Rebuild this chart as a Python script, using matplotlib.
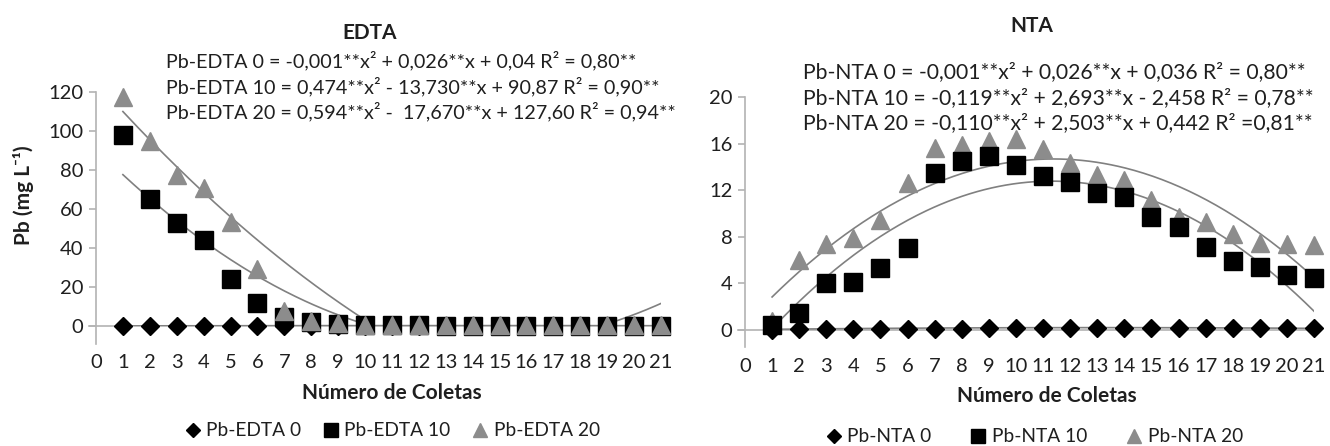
import numpy as np
import matplotlib
matplotlib.use("Agg")
import matplotlib.pyplot as plt
from matplotlib.lines import Line2D

# ---------------- data ----------------
coletas = [1, 2, 3, 4, 5, 6, 7, 8, 9, 10, 11, 12, 13, 14, 15, 16, 17, 18, 19, 20, 21]
x_ticks = list(range(0, 22))

edta_0 = [0.2, 0.2, 0.2, 0.2, 0.2, 0.2, 0.2, 0.1, 0.1, 0.1, 0.1,
          0.1, 0.1, 0.1, 0.1, 0.1, 0.1, 0.1, 0.1, 0.1, 0.1]
edta_10 = [98, 65, 53, 44, 24, 12, 4.5, 2.0, 1.2, 0.6, 0.3,
           0.3, 0.2, 0.2, 0.2, 0.2, 0.2, 0.2, 0.2, 0.2, 0.2]
edta_20 = [117.5, 95, 77.5, 71, 53.5, 29, 7.5, 2.5, 1.5, 0.6, 0.3,
           0.3, 0.3, 0.3, 0.3, 0.3, 0.3, 0.3, 0.3, 0.3, 0.3]

nta_0 = [0.0, 0.1, 0.1, 0.1, 0.1, 0.1, 0.1, 0.1, 0.15, 0.2, 0.15,
         0.2, 0.2, 0.15, 0.15, 0.15, 0.15, 0.15, 0.15, 0.15, 0.15]
nta_10 = [0.4, 1.5, 4.0, 4.1, 5.3, 7.0, 13.5, 14.5, 14.9, 14.2, 13.2,
          12.7, 11.8, 11.4, 9.7, 8.8, 7.1, 5.9, 5.4, 4.7, 4.5]
nta_20 = [0.8, 6.0, 7.4, 7.9, 9.4, 12.6, 15.6, 15.9, 16.2, 16.4, 15.5,
          14.3, 13.3, 12.9, 11.2, 9.7, 9.3, 8.2, 7.5, 7.4, 7.3]

# trend-line coefficients (a, b, c) of a*x^2 + b*x + c, as drawn
trend_edta_0 = [-0.001, 0.026, 0.04]
trend_edta_10 = [0.474, -13.730, 90.87]
trend_edta_20 = [0.325, -15.45, 125.1]
trend_nta_0 = [-0.001, 0.026, 0.036]
trend_nta_10 = [-0.119, 2.693, -2.458]
trend_nta_20 = [-0.110, 2.503, 0.442]

edta_eqs = ["Pb-EDTA 0 = -0,001**x² + 0,026**x + 0,04 R² = 0,80**",
            "Pb-EDTA 10 = 0,474**x² - 13,730**x + 90,87 R² = 0,90**",
            "Pb-EDTA 20 = 0,594**x² -  17,670**x + 127,60 R² = 0,94**"]
nta_eqs = ["Pb-NTA 0 = -0,001**x² + 0,026**x + 0,036 R² = 0,80**",
           "Pb-NTA 10 = -0,119**x² + 2,693**x - 2,458 R² = 0,78**",
           "Pb-NTA 20 = -0,110**x² + 2,503**x + 0,442 R² =0,81**"]
edta_labels = ["Pb-EDTA 0", "Pb-EDTA 10", "Pb-EDTA 20"]
nta_labels = ["Pb-NTA 0", "Pb-NTA 10", "Pb-NTA 20"]
edta_yticks = [0, 20, 40, 60, 80, 100, 120]
nta_yticks = [0, 4, 8, 12, 16, 20]

# ---------------- style ----------------
FAM = ["Lato", "DejaVu Sans"]
plt.rcParams["font.family"] = FAM
FS = 14.5
TXT = "#1f1f1f"
AXC = "#b3b3b3"
TREND = "#808080"
TRI = "#8c8c8c"

W, H = 1330, 446
fig = plt.figure(figsize=(W / 100, H / 100), dpi=100)


def fx(px):
    return px / W


def fy(py):
    return 1 - py / H


def setup(ax, ytop, yticks):
    ax.set_xlim(0, 21)
    ax.set_ylim(0, ytop)
    for s in ax.spines.values():
        s.set_visible(False)
    ax.axvline(0, ymin=-0.075, ymax=1, color=AXC, lw=1.2, clip_on=False, zorder=1)
    ax.axhline(0, xmin=-0.012, xmax=1, color=AXC, lw=1.2, clip_on=False, zorder=1)
    ax.set_yticks(yticks)
    ax.set_xticks(x_ticks)
    ax.set_xticklabels([str(v) for v in x_ticks])
    ax.tick_params(axis="y", direction="out", length=5, width=1.2, color=AXC,
                   labelsize=FS, labelcolor=TXT, pad=4)
    ax.tick_params(axis="x", length=0, labelsize=FS, labelcolor=TXT, pad=20)
    ax.patch.set_alpha(0)


xs = np.linspace(1, 21, 300)

# ---------------- left panel: EDTA ----------------
axL = fig.add_axes([fx(96), fy(326), fx(661) - fx(96), fy(92) - fy(326)])
setup(axL, 120, edta_yticks)
for coef in (trend_edta_0, trend_edta_10, trend_edta_20):
    axL.plot(xs, np.polyval(coef, xs), color=TREND, lw=1.2, zorder=2)
axL.plot(coletas, edta_0, ls="none", marker="D", ms=9, color="black", zorder=3, clip_on=False)
axL.plot(coletas, edta_10, ls="none", marker="s", ms=12.5, color="black", zorder=4, clip_on=False)
axL.plot(coletas, edta_20, ls="none", marker="^", ms=13.5, color=TRI, zorder=5, clip_on=False)

# ---------------- right panel: NTA ----------------
axR = fig.add_axes([fx(745), fy(330), fx(1314) - fx(745), fy(97) - fy(330)])
setup(axR, 20, nta_yticks)
for coef in (trend_nta_0, trend_nta_10, trend_nta_20):
    axR.plot(xs, np.polyval(coef, xs), color=TREND, lw=1.2, zorder=2)
axR.plot(coletas, nta_20, ls="none", marker="^", ms=13.5, color=TRI, zorder=3, clip_on=False)
axR.plot(coletas, nta_10, ls="none", marker="s", ms=12.5, color="black", zorder=4, clip_on=False)
axR.plot(coletas, nta_0, ls="none", marker="D", ms=9, color="black", zorder=5, clip_on=False)

# ---------------- texts ----------------
fig.text(fx(370), fy(33), "EDTA", fontsize=FS + 0.5, fontweight="bold", color=TXT,
         ha="center", va="center")
fig.text(fx(1032), fy(26), "NTA", fontsize=FS + 0.5, fontweight="bold", color=TXT,
         ha="center", va="center")
for t, yy in zip(edta_eqs, [61, 87, 112]):
    fig.text(fx(166), fy(yy), t, fontsize=14.2, color=TXT, ha="left", va="center")
for t, yy in zip(nta_eqs, [72, 98, 123]):
    fig.text(fx(803), fy(yy), t, fontsize=15.2, color=TXT, ha="left", va="center")

fig.text(fx(23), fy(195), "Pb (mg L⁻¹)", rotation=90, fontsize=FS + 0.5,
         fontweight="bold", color=TXT, ha="center", va="center", family=FAM)
fig.text(fx(392), fy(393), "Número de Coletas", fontsize=FS + 0.5, fontweight="bold",
         color=TXT, ha="center", va="center")
fig.text(fx(1047), fy(396), "Número de Coletas", fontsize=FS + 0.5, fontweight="bold",
         color=TXT, ha="center", va="center")


def handles(labels):
    return [Line2D([], [], ls="none", marker="D", ms=7.5, color="black", label=labels[0]),
            Line2D([], [], ls="none", marker="s", ms=9.5, color="black", label=labels[1]),
            Line2D([], [], ls="none", marker="^", ms=10.5, color=TRI, label=labels[2])]


for labels, cx, cy, csp in ((edta_labels, 393, 431, 1.2), (nta_labels, 1035, 437, 2.1)):
    fig.legend(handles=handles(labels), loc="center", bbox_to_anchor=(fx(cx), fy(cy)),
               ncol=3, frameon=False, fontsize=13.8, handlelength=0.7,
               handletextpad=0.35, columnspacing=csp, labelcolor=TXT,
               borderpad=0, borderaxespad=0)

fig.savefig("out.png", dpi=100)
